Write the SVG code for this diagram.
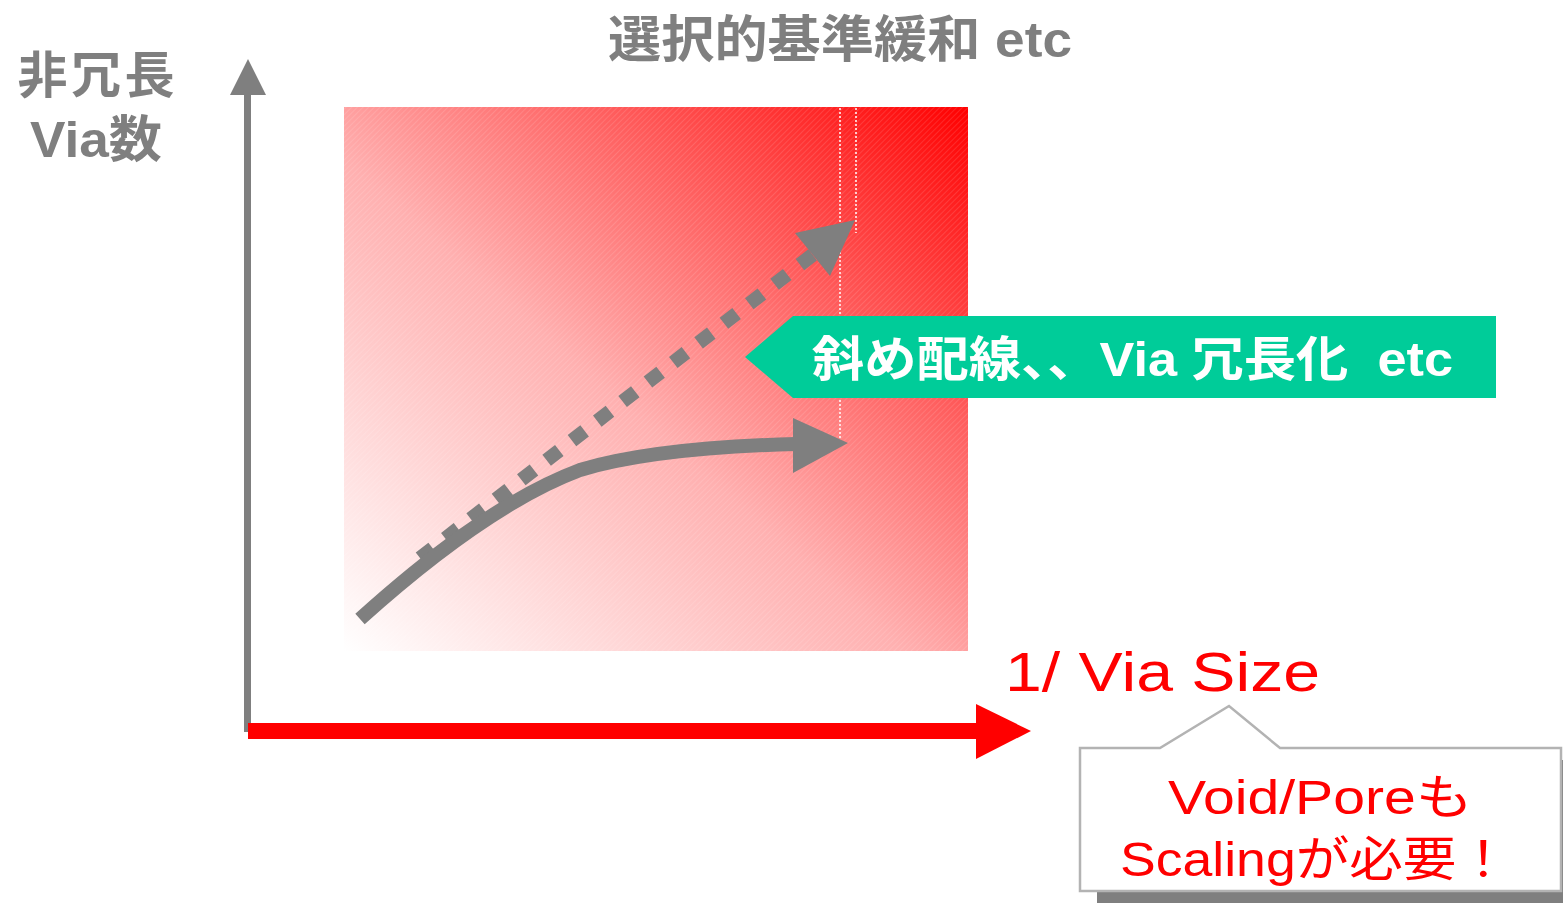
<svg xmlns="http://www.w3.org/2000/svg" width="1563" height="903" viewBox="0 0 1563 903">
<style>
.gray{fill:#7f7f7f}
.t{font-family:"Liberation Sans","Noto Sans CJK JP",sans-serif}
.b{font-weight:bold}
.ttl{font-size:50px;fill:#7f7f7f}
.red{fill:#ff0000}
.wh{fill:#ffffff}
</style>
<defs>
<linearGradient id="bg" x1="0" y1="1" x2="1" y2="0">
<stop offset="0" stop-color="#ffffff"/>
<stop offset="0.45" stop-color="#ffb0b0"/>
<stop offset="1" stop-color="#ff0000"/>
</linearGradient>
<pattern id="hatch" width="4" height="4" patternUnits="userSpaceOnUse" patternTransform="rotate(45)">
<rect x="0" y="0" width="1" height="4" fill="#ffffff" fill-opacity="0.12"/>
</pattern>
</defs>
<rect width="1563" height="903" fill="#ffffff"/>
<g id="region">
<rect x="344" y="107" width="624" height="544" fill="url(#bg)"/>
<rect x="344" y="107" width="624" height="544" fill="url(#hatch)"/>
<line x1="840" y1="108" x2="840" y2="440" stroke="#ffffff" stroke-width="1.5" stroke-dasharray="2 2"/>
<line x1="856" y1="108" x2="856" y2="233" stroke="#ffffff" stroke-width="1.5" stroke-dasharray="2 2"/>
</g>
<g id="y-axis">
<rect x="244" y="93" width="7" height="639" class="gray"/>
<polygon points="248,59 230,95 266,95" class="gray"/>
<text class="t b" x="96" y="93" font-size="50" text-anchor="middle" fill="#7f7f7f" textLength="157">非冗長</text>
<text class="t b" x="96" y="157" font-size="50" text-anchor="middle" fill="#7f7f7f" textLength="132" lengthAdjust="spacingAndGlyphs">Via数</text>
</g>
<g id="x-axis">
<rect x="248" y="723" width="730" height="16" class="red"/>
<polygon points="976,704 1031,731 976,759" class="red"/>
<text class="t red" x="1005" y="691" font-size="56" textLength="315" lengthAdjust="spacingAndGlyphs">1/ Via Size</text>
</g>
<g id="title">
<text class="t b ttl" x="608" y="57" textLength="464" lengthAdjust="spacingAndGlyphs">選択的基準緩和 etc</text>
</g>
<g id="connectors">
<line x1="420" y1="558" x2="815" y2="253" stroke="#7f7f7f" stroke-width="14" stroke-dasharray="16 16"/>
<polygon points="855,220 795,233 830,276" class="gray"/>
<path d="M360,619 C420,565 500,500 580,470 C640,452 720,446 796,444" fill="none" stroke="#7f7f7f" stroke-width="14"/>
<polygon points="793,418 848,443 793,473" class="gray"/>
</g>
<g id="green-callout">
<polygon points="745,357 793,316 1496,316 1496,398 793,398" fill="#00cc99"/>
<text class="t b wh" x="812" y="376" font-size="48" textLength="641" lengthAdjust="spacingAndGlyphs">斜め配線、、Via 冗長化&#160; etc</text>
</g>
<g id="note-callout">
<rect x="1097" y="760" width="480" height="160" fill="#7f7f7f"/>
<path d="M1080,748 L1160,748 L1229,706 L1280,748 L1561,748 L1561,891 L1080,891 Z" fill="#ffffff" stroke="#b3b3b3" stroke-width="2.5"/>
<text class="t red" x="1168" y="814" font-size="48" textLength="305" lengthAdjust="spacingAndGlyphs">Void/Poreも</text>
<text class="t red" x="1120" y="876" font-size="48" textLength="390" lengthAdjust="spacingAndGlyphs">Scalingが必要！</text>
</g>
</svg>
